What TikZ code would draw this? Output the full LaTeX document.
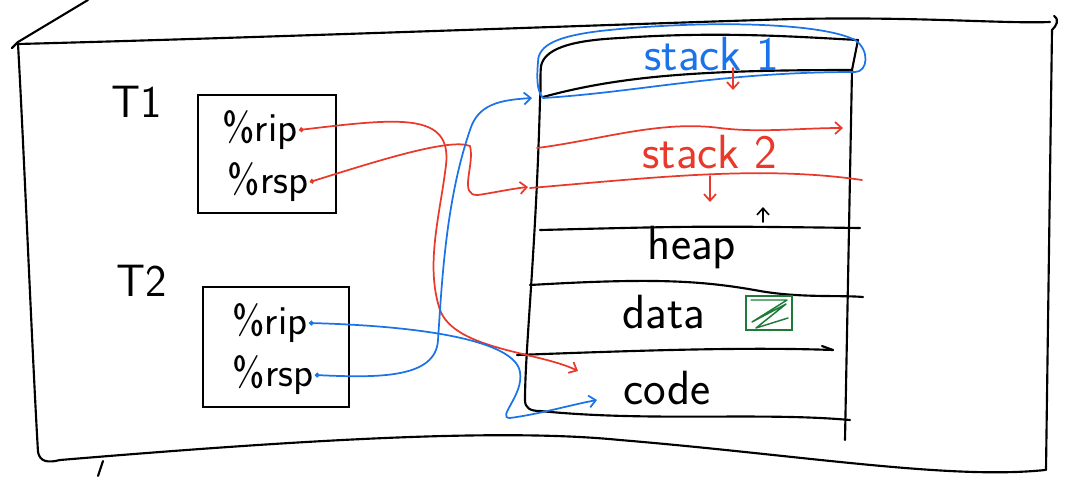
\documentclass[tikz,border=0pt]{standalone}
\usepackage{tikz}
\usetikzlibrary{arrows.meta,positioning}
\definecolor{penred}{HTML}{E8392A}
\definecolor{penblue}{HTML}{1A73E8}
\definecolor{pengreen}{HTML}{1E7B3A}

\begin{document}
\begin{tikzpicture}[x=0.75pt, y=-0.75pt,
  pen/.style={line width=1.6pt, line cap=round, line join=round},
  redpen/.style={pen, draw=penred, line width=1.3pt},
  bluepen/.style={pen, draw=penblue, line width=1.3pt},
  arr/.style={-{Straight Barb[length=5pt,width=9pt]}},
  dotarr/.style={{Circle[length=3.5pt]}-{Straight Barb[length=5pt,width=9pt]}},
  regbox/.style={draw, line width=1.6pt, minimum width=104pt, minimum height=88pt},
  reg/.style={font=\fontsize{31}{33}\selectfont\sffamily, inner sep=1pt},
  thr/.style={font=\fontsize{34}{36}\selectfont\sffamily},
  seg/.style={font=\fontsize{36}{38}\selectfont\sffamily}
]
  \useasboundingbox (0,0) rectangle (1065,476);

  % outer frame
  \draw[pen] (18,44) .. controls (250,38) and (600,25) .. (760,20)
             .. controls (900,15) and (1000,24) .. (1050,22);
  \draw[pen] (18,44) .. controls (24,150) and (32,350) .. (38,452)
             .. controls (40,462) and (48,463) .. (60,460)
             .. controls (300,440) and (500,428) .. (620,440)
             .. controls (800,455) and (950,480) .. (1045,470);
  \draw[pen] (1054,16) .. controls (1060,20) and (1056,26) .. (1052,30)
             -- (1046,470);
  \draw[pen] (12,48) -- (18,42) -- (88,0);
  \draw[pen] (103,461) -- (98,476);

  % threads
  \node[thr] (t1lbl) at (137,102) {T1};
  \node[regbox] (t1box) at (267,154) {};
  \node[reg] (t1rip) at (260,130) {\%rip};
  \node[reg] (t1rsp) at (268,182) {\%rsp};

  \node[thr] (t2lbl) at (142,281) {T2};
  \node[regbox, minimum width=110pt, minimum height=90pt] (t2box) at (276,347) {};
  \node[reg] (t2rip) at (270,323) {\%rip};
  \node[reg] (t2rsp) at (273,375) {\%rsp};

  % address space
  \draw[pen] (541,66) .. controls (545,46) and (580,40) .. (620,38)
             .. controls (720,31) and (800,37) .. (858,40) -- (852,70);
  \draw[pen] (541,66) .. controls (540,75) and (541,90) .. (540,100)
             .. controls (536,250) and (525,350) .. (525,400)
             .. controls (525,408) and (530,411) .. (540,411)
             .. controls (650,422) and (760,412) .. (850,420);
  \draw[pen] (852,70) -- (845,440);
  \draw[pen] (543,97) .. controls (620,76) and (700,70) .. (852,70);
  \draw[pen] (540,230) .. controls (700,226) .. (860,228);
  \draw[pen] (530,285) .. controls (650,278) and (700,280) .. (760,291)
             .. controls (800,298) and (840,295) .. (863,297);
  \draw[pen] (517,355) .. controls (650,350) and (750,347) .. (833,350);
  \draw[pen] (822,346) -- (833,350);

  \node[seg, text=penblue] (stackone) at (712,54) {stack 1};
  \node[seg, text=penred] (stacktwo) at (710,152) {stack 2};
  \node[seg] (heap) at (692,248) {heap};
  \node[seg] (data) at (664,312) {data};
  \node[seg] (code) at (667,388) {code};

  % stack 1 outline and growth marks
  \draw[bluepen] (538,62) .. controls (538,44) and (560,36) .. (600,31)
                 .. controls (700,20) and (820,22) .. (855,40)
                 .. controls (870,50) and (868,72) .. (855,72)
                 .. controls (720,72) and (640,92) .. (543,98)
                 .. controls (536,90) and (537,75) .. (538,62);
  \draw[redpen, arr] (733,68) -- (733,90);
  \draw[redpen, arr] (537,148) .. controls (600,140) and (660,120) .. (720,128)
                     .. controls (760,133) and (800,128) .. (843,128);
  \draw[redpen] (530,188) .. controls (650,178) and (760,165) .. (862,180);
  \draw[redpen, arr] (710,176) -- (710,202);
  \draw[pen, arr, line width=1.2pt] (763,222) -- (763,207);

  % data mark
  \node[draw=pengreen, line width=1.3pt, minimum width=34pt, minimum height=26pt] (datamark) at (769,313) {};
  \draw[pen, draw=pengreen, line width=1.1pt] (751,300) -- (787,300) -- (752,322) -- (786,304) -- (756,328) -- (788,318);

  % register connectors
  \coordinate (s1in) at (532,98);
  \coordinate (s2in) at (528,187);
  \coordinate (t1code) at (578,371);
  \coordinate (t2code) at (597,400);

  \draw[redpen, dotarr] (t1rip.east) .. controls (400,118) and (452,112) .. (446,165)
                        .. controls (440,215) and (425,265) .. (440,310)
                        .. controls (455,350) and (540,352) .. (t1code);
  \draw[redpen, dotarr] (t1rsp.east) .. controls (380,160) and (450,138) .. (470,146)
                        .. controls (475,165) and (458,196) .. (478,195)
                        .. controls (492,193) and (510,189) .. (s2in);
  \draw[bluepen, dotarr] (t2rip.east) .. controls (420,326) and (515,340) .. (520,372)
                         .. controls (524,395) and (496,418) .. (510,418)
                         .. controls (540,414) and (570,405) .. (t2code);
  \draw[bluepen, dotarr] (t2rsp.east) .. controls (380,378) and (436,378) .. (438,340)
                         .. controls (442,280) and (446,200) .. (470,130)
                         .. controls (478,104) and (500,100) .. (s1in);
\end{tikzpicture}
\end{document}
